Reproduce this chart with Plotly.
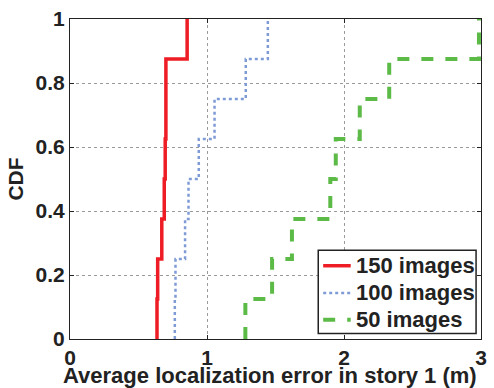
import plotly.graph_objects as go

# Per-trial average localization error (m) in story 1, sorted, for each training-set size
err_150 = [0.635, 0.64, 0.67, 0.688, 0.695, 0.70, 0.70, 0.855]
err_100 = [0.765, 0.77, 0.84, 0.865, 0.94, 1.055, 1.283, 1.444]
err_50 = [1.28, 1.475, 1.62, 1.90, 1.94, 2.115, 2.33, 2.985]

series_names = ["150 images", "100 images", "50 images"]
x_ticks = [0, 1, 2, 3]
y_ticks = [0, 0.2, 0.4, 0.6, 0.8, 1]


def ecdf(values):
    vals = sorted(values)
    n = len(vals)
    xs = [vals[0]] + vals
    ys = [0.0] + [(i + 1) / n for i in range(n)]
    return xs, ys


FONT = "Liberation Sans, Arial, Helvetica, sans-serif"
INK = "#222222"
styles = [
    dict(color="#ee1c25", width=3.5, dash="solid"),
    dict(color="#7f9bd6", width=2.5, dash="dot"),
    dict(color="#5cba47", width=4, dash="dash"),
]

fig = go.Figure()
for name, data, st in zip(series_names, [err_150, err_100, err_50], styles):
    xs, ys = ecdf(data)
    fig.add_trace(go.Scatter(x=xs, y=ys, mode="lines", name=name,
                             line=dict(shape="hv", **st), showlegend=False))

axis_common = dict(
    showline=True, linecolor=INK, linewidth=1.2, mirror="ticks",
    ticks="inside", ticklen=4, tickcolor=INK,
    showgrid=True, gridcolor="#9a9a9a", griddash="dot", gridwidth=1,
    zeroline=False,
    tickfont=dict(family=FONT, size=21, color=INK, weight="bold"),
)

fig.update_layout(
    width=494, height=388,
    margin=dict(l=70, r=7, t=17, b=49),
    paper_bgcolor="white", plot_bgcolor="white",
    xaxis=dict(range=[0, 3], tickvals=x_ticks, ticktext=[str(v) for v in x_ticks],
               **axis_common),
    yaxis=dict(range=[0, 1], tickvals=y_ticks, ticktext=["0", "0.2", "0.4", "0.6", "0.8", "1"],
               title=dict(text="CDF",
                          font=dict(family=FONT, size=21, color=INK, weight="bold"),
                          standoff=6),
               **axis_common),
    showlegend=False,
)

# x-axis title, set tight under the tick labels
fig.add_annotation(text="Average localization error in story 1 (m)",
                   xref="x domain", yref="y domain", x=0.486, y=0,
                   xanchor="center", yanchor="middle", yshift=-36, showarrow=False,
                   font=dict(family=FONT, size=22, color=INK, weight="bold"))

# Boxed legend in the lower-right corner of the axes
box = dict(x0=0.604, x1=0.988, y0=0.017, y1=0.2775)
fig.add_shape(type="rect", xref="x domain", yref="y domain", **box,
              line=dict(color=INK, width=1.5), fillcolor="white", layer="above")
row_y = [0.229, 0.144, 0.060]
for name, st, yy in zip(series_names, styles, row_y):
    fig.add_shape(type="line", xref="x domain", yref="y domain",
                  x0=0.616, x1=0.683, y0=yy, y1=yy, layer="above",
                  line=dict(color=st["color"], width=st["width"], dash=st["dash"]))
    fig.add_annotation(text=name, xref="x domain", yref="y domain",
                       x=0.690, y=yy, xanchor="left", yanchor="middle", showarrow=False,
                       font=dict(family=FONT, size=22, color=INK, weight="bold"))

fig.write_html("out.html")
